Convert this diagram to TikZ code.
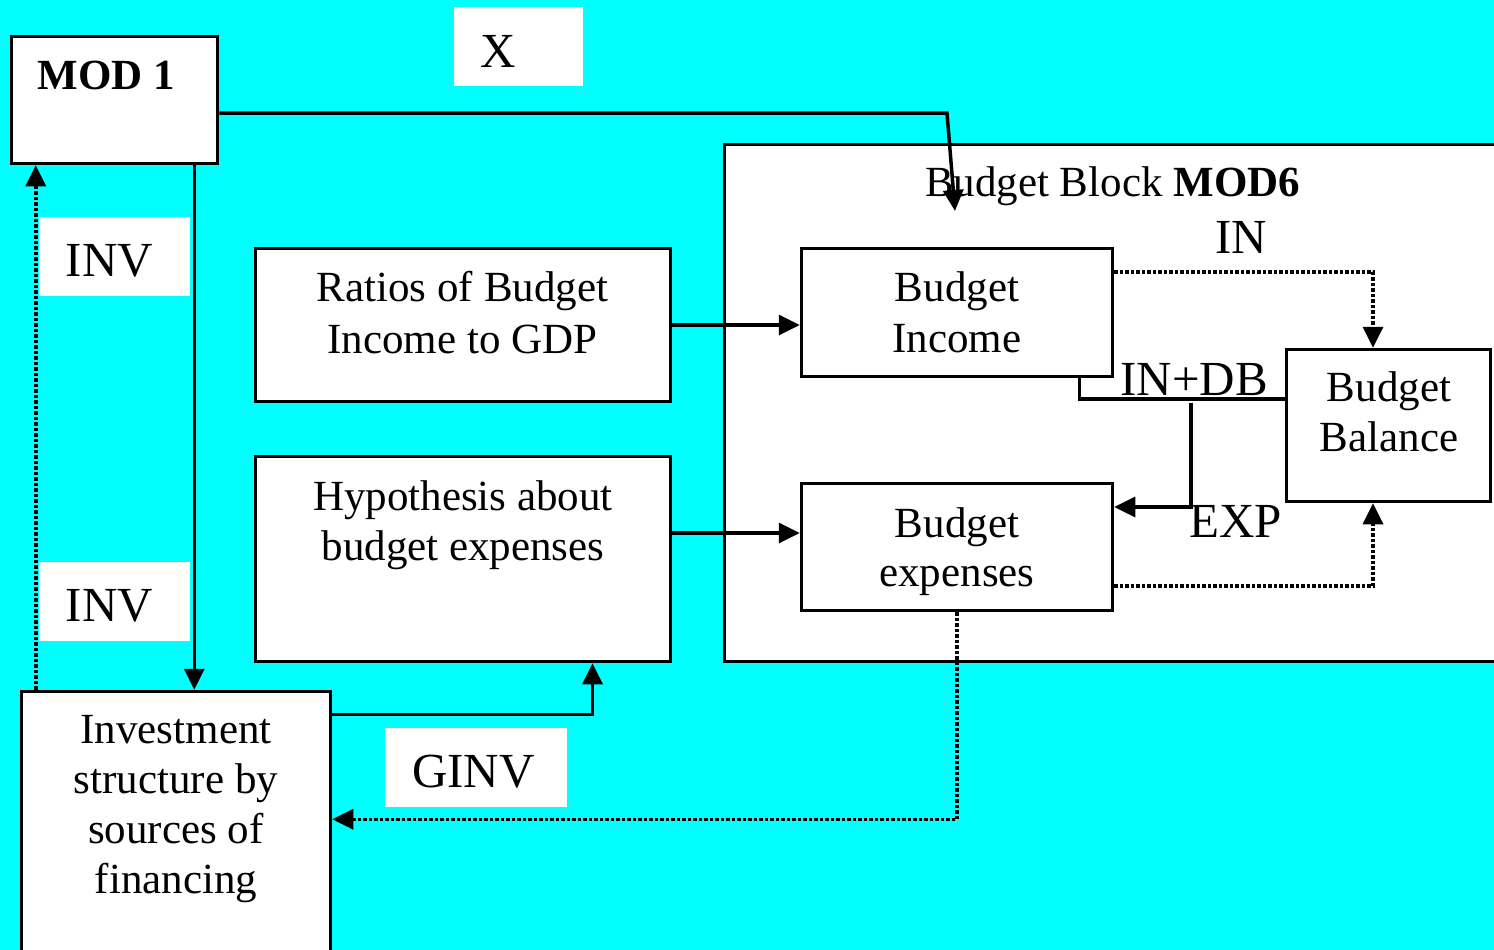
\documentclass[tikz,border=0pt]{standalone}
\usepackage{fontspec}
\setmainfont{Liberation Serif}
\usetikzlibrary{arrows.meta}
\definecolor{aqua}{RGB}{0,255,255}
\begin{document}
\begin{tikzpicture}[x=1pt,y=-1pt,
  box/.style={draw=black, fill=white, line width=3.5pt, inner sep=0pt, rectangle},
  tag/.style={fill=white, inner sep=0pt, rectangle},
  boxtext/.style={anchor=base, align=center, inner sep=0pt},
  tagtext/.style={anchor=base, inner sep=0pt, font=\fontsize{49}{59}\selectfont},
  link/.style={line width=3.5pt, -{Triangle[length=21pt,width=20pt]}},
  dotlink/.style={link, dash pattern=on 3.5pt off 2pt},
  plain/.style={line width=3.5pt}
]
\useasboundingbox (0,0) rectangle (1494,950);
\clip (0,0) rectangle (1494,950);
\fill[aqua] (0,0) rectangle (1494,950);

% budget block frame
\node[box, minimum width=785.5pt, minimum height=517pt] (block) at (1117.25,403) {};
\node[boxtext, font=\fontsize{43}{51}\selectfont] (blocktitle) at (1112.5,196) {Budget Block \textbf{MOD6}};

% boxes
\node[box, minimum width=206pt, minimum height=127pt] (mod1) at (114.5,100) {};
\node[box, minimum width=415pt, minimum height=153pt] (ratios) at (463,325) {};
\node[box, minimum width=415pt, minimum height=205pt] (hypo) at (463,559) {};
\node[box, minimum width=309pt, minimum height=280pt] (invest) at (176,831.5) {};
\node[box, minimum width=311pt, minimum height=128pt] (income) at (957,312.5) {};
\node[box, minimum width=311pt, minimum height=127pt] (expenses) at (957,547) {};
\node[box, minimum width=204pt, minimum height=152pt] (balance) at (1388.5,425.5) {};

% white label plates
\node[tag, minimum width=129pt, minimum height=79pt] (xtag) at (518.5,46.5) {};
\node[tag, minimum width=151pt, minimum height=79pt] (invtag1) at (114.5,256.5) {};
\node[tag, minimum width=151pt, minimum height=79pt] (invtag2) at (114.5,601.5) {};
\node[tag, minimum width=182pt, minimum height=79pt] (ginvtag) at (476,767.5) {};

% box texts (multi-line nodes sit on the baseline of their last line)
\node[boxtext, font=\fontsize{43}{51}\selectfont\bfseries] (mod1t) at (106.5,89) {MOD 1};
\node[boxtext, font=\fontsize{43}{52}\selectfont] (ratiost) at (462.5,353) {Ratios of Budget\\Income to GDP};
\node[boxtext, font=\fontsize{43}{50}\selectfont] (hypot) at (463,560) {Hypothesis about\\budget expenses};
\node[boxtext, font=\fontsize{43}{51}\selectfont] (incomet) at (957,352) {Budget\\Income};
\node[boxtext, font=\fontsize{43}{49}\selectfont] (expensest) at (957,586) {Budget\\expenses};
\node[boxtext, font=\fontsize{43}{50}\selectfont] (balancet) at (1389,451) {Budget\\Balance};
\node[boxtext, font=\fontsize{43}{50}\selectfont] (investt) at (176,893) {Investment\\structure by\\sources of\\financing};

% label texts
\node[tagtext] (xt) at (498,67) {X};
\node[tagtext] (inv1t) at (109.5,276) {INV};
\node[tagtext] (inv2t) at (109.5,621) {INV};
\node[tagtext] (ginvt) at (473.5,787) {GINV};
\node[tagtext] (int) at (1241.5,253) {IN};
\node[tagtext] (indbt) at (1194,395) {IN+DB};
\node[tagtext] (expt) at (1235.5,537) {EXP};

% connector end points
\coordinate (xbend) at (947,113);
\coordinate (xend) at (955,211);
\coordinate (split) at (1191,403);
\coordinate (downx) at ([xshift=-25pt]mod1.south east);
\coordinate (upx) at ([xshift=16pt]invest.north west);
\coordinate (hypoin) at ([yshift=14pt]expenses.west);

% connectors
\draw[link] (downx) -- (downx |- invest.north);
\draw[dotlink] (upx) -- (upx |- mod1.south);
\draw[link] (ratios.east) -- (income.west |- ratios.east);
\draw[link] (hypo.east |- hypoin) -- (hypoin);
\draw[dotlink] ([yshift=40.5pt]income.east) -| ([xshift=-15.5pt]balance.north);
\draw[dotlink] ([yshift=-39pt]expenses.east) -| ([xshift=-15.5pt]balance.south);
\draw[plain] ([yshift=26.5pt]balance.west) -| ([xshift=-35pt,yshift=3.5pt]income.south east);
\draw[link] (split) |- ([yshift=40pt]expenses.east);
\draw[link] ([yshift=-24.5pt]invest.north east) -| ([xshift=129.5pt]hypo.south);
\draw[dotlink] (expenses.south) |- ([yshift=-129.5pt]invest.north east);
\draw[link] ([yshift=-13pt]mod1.east) -- (xbend) -- (xend);
\end{tikzpicture}
\end{document}
